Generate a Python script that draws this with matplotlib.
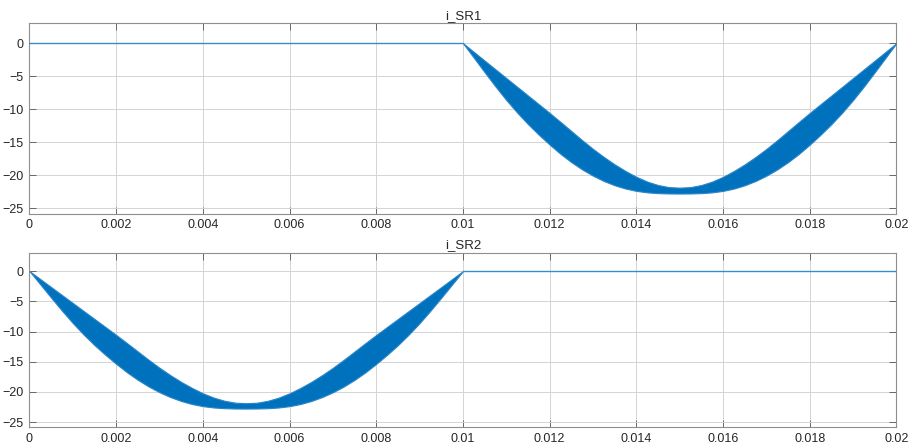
import numpy as np
import matplotlib
matplotlib.use("Agg")
import matplotlib.pyplot as plt
from matplotlib.ticker import FuncFormatter

plt.rcParams['font.family'] = ['Liberation Sans', 'DejaVu Sans']

# ── Ripple envelope of the SR current over one conduction half-cycle ─────────
# time offset from start of conduction (s), upper / lower envelope (A)
t_half = np.arange(41) * 0.00025
env_hi = [0.0, -1.32, -2.64, -3.96, -5.28, -6.6, -7.92, -9.24, -10.56, -11.92,
          -13.3, -14.68, -16.0, -17.22, -18.34, -19.34, -20.22, -20.94, -21.46, -21.78,
          -21.86,
          -21.78, -21.46, -20.94, -20.22, -19.34, -18.34, -17.22, -16.0, -14.68, -13.3,
          -11.92, -10.56, -9.24, -7.92, -6.6, -5.28, -3.96, -2.64, -1.32, 0.0]
env_lo = [0.0, -2.2, -4.4, -6.55, -8.6, -10.5, -12.25, -13.85, -15.35, -16.75,
          -18.0, -19.1, -20.05, -20.85, -21.5, -22.0, -22.35, -22.57, -22.69, -22.74,
          -22.75,
          -22.74, -22.69, -22.57, -22.35, -22.0, -21.5, -20.85, -20.05, -19.1, -18.0,
          -16.75, -15.35, -13.85, -12.25, -10.5, -8.6, -6.55, -4.4, -2.2, 0.0]

# conduction start of each switch and its idle interval
titles    = ['i_SR1', 'i_SR2']
t_on      = [0.010, 0.000]
idle_span = [(0.0, 0.010), (0.010, 0.020)]

x_ticks = np.arange(0, 0.0201, 0.002)
y_ticks = [-25, -20, -15, -10, -5, 0]

blue  = '#0072BD'
grid  = '#d4d4d4'
spine = '#8f8f8f'
txt   = '#262626'

fig = plt.figure(figsize=(9.10, 4.48), dpi=100, facecolor='white')
positions = [[0.0324, 0.5230, 0.9527, 0.4257],
             [0.0324, 0.0469, 0.9527, 0.3891]]

for pos, title, t0, idle in zip(positions, titles, t_on, idle_span):
    ax = fig.add_axes(pos)
    # switching ripple band
    ax.fill_between(t_half + t0, env_lo, env_hi, color=blue, lw=0.8,
                    edgecolor='#2a85c8', zorder=3)
    # zero current while the switch is off
    ax.plot(idle, [0, 0], color='#3a8cc9', lw=1.0, zorder=3)

    ax.set_xlim(0, 0.02)
    ax.set_ylim(-25.8, 3.05)
    ax.set_xticks(x_ticks)
    ax.set_yticks(y_ticks)
    ax.xaxis.set_major_formatter(FuncFormatter(lambda v, _: f'{v:g}'))
    ax.grid(True, color=grid, lw=0.7, zorder=0)
    ax.set_axisbelow(True)
    ax.tick_params(direction='in', length=5, width=0.6, color='#555555',
                   labelsize=9, labelcolor=txt, top=True, right=True, pad=4)
    for sp in ax.spines.values():
        sp.set_color(spine)
        sp.set_linewidth(0.8)
    ax.set_title(title, fontsize=9.5, color=txt, pad=3)

fig.savefig('out.png', dpi=100, facecolor='white')
